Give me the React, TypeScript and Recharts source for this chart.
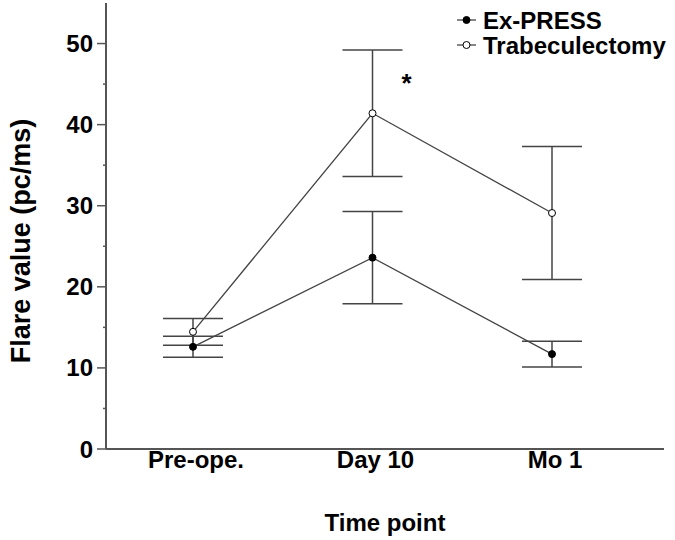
import React from 'react';
import { LineChart, Line, XAxis, YAxis, ErrorBar, Legend, LabelList } from 'recharts';

const categories = ['Pre-ope.', 'Day 10', 'Mo 1'];
const exPressMean = [12.6, 23.6, 11.7];
const exPressErr = [1.3, 5.7, 1.6];
const trabMean = [14.45, 41.4, 29.1];
const trabErr = [1.65, 7.8, 8.2];
const significance = ['', '*', ''];
const yTicks = [0, 5, 10, 15, 20, 25, 30, 35, 40, 45, 50];

const seriesNames = ['Ex-PRESS', 'Trabeculectomy'];

const data = categories.map((c, i) => ({
  cat: c,
  ex: exPressMean[i],
  exErr: exPressErr[i],
  trab: trabMean[i],
  trabErr: trabErr[i],
  sig: significance[i],
}));

const FONT = '"Liberation Sans", Arial, sans-serif';
const AXIS = '#555';
const LINE = '#444';

const YTick = (props: any) => {
  const { x, y, payload } = props;
  const major = payload.value % 10 === 0;
  return (
    <g>
      <line x1={x - (major ? 9 : 3)} x2={x} y1={y} y2={y} stroke={AXIS} strokeWidth={1.5} />
      {major && (
        <text x={x - 13} y={y + 8.5} textAnchor="end" fontFamily={FONT} fontWeight="bold" fontSize={24} fill="#000">
          {payload.value}
        </text>
      )}
    </g>
  );
};

const XTick = (props: any) => {
  const { x, y, payload } = props;
  return (
    <text x={x + 3} y={y + 19} textAnchor="middle" fontFamily={FONT} fontWeight="bold" fontSize={24} fill="#000">
      {payload.value}
    </text>
  );
};

const StarLabel = (props: any) => {
  const { x, y, value } = props;
  if (!value) return null;
  return (
    <text x={x + 34} y={y - 21} textAnchor="middle" fontFamily={FONT} fontWeight="bold" fontSize={26} fill="#000">
      {value}
    </text>
  );
};

const LegendContent = () => (
  <svg width={220} height={55}>
    {seriesNames.map((n, i) => {
      const cy = 15 + i * 25;
      return (
        <g key={n}>
          <line x1={2} x2={21} y1={cy} y2={cy} stroke={LINE} strokeWidth={1.3} />
          <circle cx={11.5} cy={cy} r={3.5} fill={i === 0 ? '#000' : '#fff'} stroke="#000" strokeWidth={1} />
          <text x={28} y={cy + 8.5} fontFamily={FONT} fontWeight="bold" fontSize={24} fill="#000">
            {n}
          </text>
        </g>
      );
    })}
  </svg>
);

export default function App() {
  return (
    <div style={{ position: 'absolute', left: 0, top: 0, background: '#fff' }}>
      <LineChart width={675} height={540} data={data} margin={{ top: 3, right: 11, bottom: 0, left: 0 }}>
        <XAxis
          dataKey="cat"
          height={91}
          padding={{ left: 87, right: 112 }}
          axisLine={{ stroke: AXIS, strokeWidth: 2 }}
          tickLine={false}
          tickSize={0}
          tickMargin={0}
          tick={<XTick />}
          interval={0}
          label={{
            content: (p: any) => {
              const vb = p.viewBox;
              return (
                <text x={vb.x + vb.width / 2} y={vb.y + 82} textAnchor="middle" fontFamily={FONT} fontWeight="bold" fontSize={24} fill="#000">
                  Time point
                </text>
              );
            },
          }}
        />
        <YAxis
          width={106}
          domain={[0, 55]}
          ticks={yTicks}
          interval={0}
          axisLine={{ stroke: AXIS, strokeWidth: 2 }}
          tickLine={false}
          tickSize={0}
          tickMargin={0}
          tick={<YTick />}
          label={{
            content: () => (
              <text x={30} y={241} transform="rotate(-90, 30, 241)" textAnchor="middle" fontFamily={FONT} fontWeight="bold" fontSize={27} fill="#000">
                Flare value (pc/ms)
              </text>
            ),
          }}
        />
        <Legend
          layout="vertical"
          align="center"
          verticalAlign="middle"
          content={() => <LegendContent />}
          wrapperStyle={{ position: 'absolute', left: 455, top: 5, width: 220, height: 55 }}
        />
        <Line
          dataKey="ex"
          name={seriesNames[0]}
          stroke={LINE}
          strokeWidth={1.3}
          isAnimationActive={false}
          dot={{ r: 3.5, fill: '#000', stroke: '#000', strokeWidth: 1 }}
        >
          <ErrorBar dataKey="exErr" width={30} stroke={LINE} strokeWidth={1.5} direction="y" />
        </Line>
        <Line
          dataKey="trab"
          name={seriesNames[1]}
          stroke={LINE}
          strokeWidth={1.3}
          isAnimationActive={false}
          dot={{ r: 3.5, fill: '#fff', stroke: '#000', strokeWidth: 1 }}
        >
          <ErrorBar dataKey="trabErr" width={30} stroke={LINE} strokeWidth={1.5} direction="y" />
          <LabelList dataKey="sig" content={<StarLabel />} />
        </Line>
      </LineChart>
    </div>
  );
}
